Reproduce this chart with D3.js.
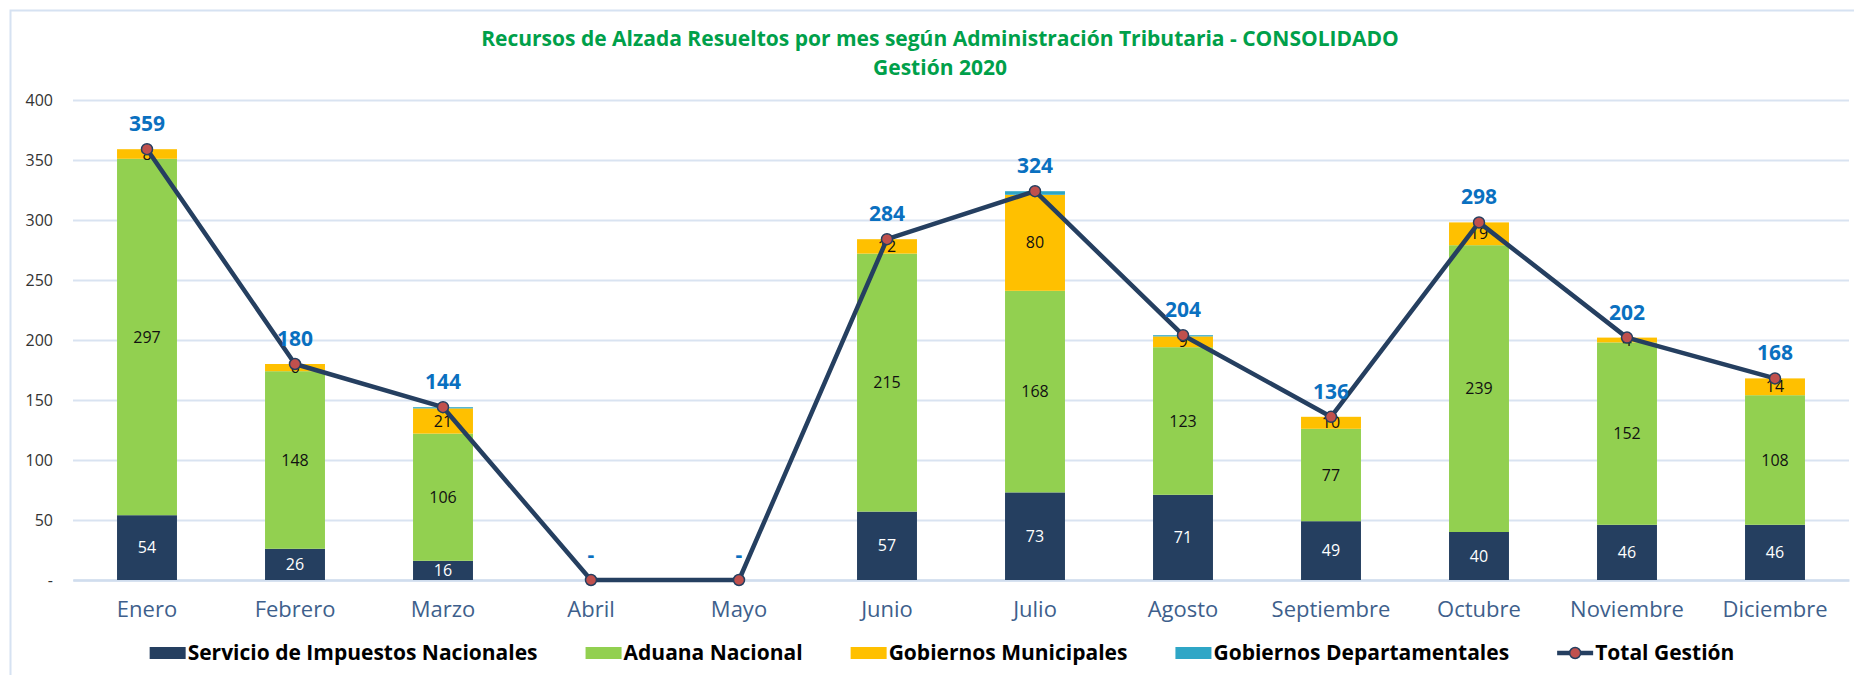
<!DOCTYPE html>
<html>
<head>
<meta charset="utf-8">
<script src="https://cdn.jsdelivr.net/npm/d3@7"></script>
<style>
  body { margin: 0; background: #fff; }
  svg { display: block; }
</style>
</head>
<body>
<div id="chart"></div>
<script>
// data
const months = ["Enero", "Febrero", "Marzo", "Abril", "Mayo", "Junio", "Julio", "Agosto", "Septiembre", "Octubre", "Noviembre", "Diciembre"];
const impuestos = [54, 26, 16, 0, 0, 57, 73, 71, 49, 40, 46, 46];
const aduana = [297, 148, 106, 0, 0, 215, 168, 123, 77, 239, 152, 108];
const municipales = [8, 6, 21, 0, 0, 12, 80, 9, 10, 19, 4, 14];
const departamentales = [0, 0, 1, 0, 0, 0, 3, 1, 0, 0, 0, 0];
const totalGestion = [359, 180, 144, 0, 0, 284, 324, 204, 136, 298, 202, 168];
const yTicks = [0, 50, 100, 150, 200, 250, 300, 350, 400];

const seriesNames = ["Servicio de Impuestos Nacionales", "Aduana Nacional", "Gobiernos Municipales", "Gobiernos Departamentales"];
const seriesKeys = ["imp", "adu", "mun", "dep"];
const colors = ["#253F60", "#92D050", "#FFC000", "#2FA6C6"];
const labelColors = ["#ffffff", "#111111", "#111111", null];

const W = 1854, H = 675;
const font = "'Open Sans', sans-serif";

const table = months.map((m, i) => ({
  month: m, imp: impuestos[i], adu: aduana[i], mun: municipales[i], dep: departamentales[i], total: totalGestion[i]
}));

const svg = d3.select("#chart").append("svg")
  .attr("width", W)
  .attr("height", H);

// outer frame
svg.append("rect")
  .attr("x", 10.5).attr("y", 10.5)
  .attr("width", W + 20).attr("height", H + 20)
  .attr("fill", "none")
  .attr("stroke", "#D6E2F2")
  .attr("stroke-width", 2);

// title
const title = svg.append("text")
  .attr("text-anchor", "middle")
  .attr("font-family", font)
  .attr("font-weight", "bold")
  .attr("font-size", "21px")
  .attr("fill", "#00A04A");
title.append("tspan").attr("x", 940).attr("y", 46)
  .text("Recursos de Alzada Resueltos por mes según Administración Tributaria - CONSOLIDADO");
title.append("tspan").attr("x", 940).attr("y", 75)
  .text("Gestión 2020");

// scales
const x = d3.scaleBand()
  .domain(months)
  .range([73, 1849])
  .paddingInner(0.595)
  .paddingOuter(0.2975);

const y = d3.scaleLinear()
  .domain([0, 400])
  .range([580, 100]);

// y grid + labels
svg.append("g")
  .attr("transform", "translate(73,0)")
  .call(d3.axisLeft(y).tickValues(yTicks).tickSize(-(1849 - 73)).tickPadding(20)
    .tickFormat(d => d === 0 ? "-" : d))
  .call(g => g.select(".domain").remove())
  .call(g => g.selectAll("line").attr("stroke", "#D9E3F1").attr("stroke-width", 2))
  .call(g => g.selectAll("text")
    .attr("font-family", font)
    .attr("font-size", "16px")
    .attr("fill", "#333333"));

// x axis labels
svg.append("g")
  .attr("transform", "translate(0,580)")
  .call(d3.axisBottom(x).tickSize(0).tickPadding(21))
  .call(g => g.select(".domain").attr("stroke", "#D0DDEE").attr("stroke-width", 2.5))
  .call(g => g.selectAll("text")
    .attr("font-family", font)
    .attr("font-size", "22px")
    .attr("fill", "#3E5F8C"));

// stacked bars
const stacked = d3.stack().keys(seriesKeys)(table);

const layers = svg.append("g").selectAll("g")
  .data(stacked)
  .join("g")
    .attr("fill", (d, i) => colors[i]);

layers.selectAll("rect")
  .data(d => d)
  .join("rect")
    .attr("x", d => x(d.data.month))
    .attr("y", d => y(d[1]))
    .attr("width", x.bandwidth())
    .attr("height", d => y(d[0]) - y(d[1]));

// segment labels
stacked.forEach((layer, i) => {
  if (!labelColors[i]) return;
  svg.append("g").selectAll("text")
    .data(layer.filter(d => d[1] - d[0] > 0))
    .join("text")
      .attr("x", d => x(d.data.month) + x.bandwidth() / 2)
      .attr("y", d => y((d[0] + d[1]) / 2))
      .attr("dy", "0.35em")
      .attr("text-anchor", "middle")
      .attr("font-family", font)
      .attr("font-size", "16px")
      .attr("fill", labelColors[i])
      .text(d => d[1] - d[0]);
});

// total line
const line = d3.line()
  .x(d => x(d.month) + x.bandwidth() / 2)
  .y(d => y(d.total));

svg.append("path")
  .datum(table)
  .attr("d", line)
  .attr("fill", "none")
  .attr("stroke", "#253F60")
  .attr("stroke-width", 4.5)
  .attr("stroke-linejoin", "round");

svg.append("g").selectAll("circle")
  .data(table)
  .join("circle")
    .attr("cx", d => x(d.month) + x.bandwidth() / 2)
    .attr("cy", d => y(d.total))
    .attr("r", 5.5)
    .attr("fill", "#C0504D")
    .attr("stroke", "#253F60")
    .attr("stroke-width", 1.5);

// total labels
svg.append("g").selectAll("text")
  .data(table)
  .join("text")
    .attr("x", d => x(d.month) + x.bandwidth() / 2)
    .attr("y", d => y(d.total) - 18)
    .attr("text-anchor", "middle")
    .attr("font-family", font)
    .attr("font-weight", "bold")
    .attr("font-size", "21px")
    .attr("fill", "#0A70C0")
    .text(d => d.total === 0 ? "-" : d.total);

// legend
const legend = svg.append("g").attr("transform", "translate(0,653)");
const legendItems = seriesNames.concat(["Total Gestión"]);
const gap = 48;
let lx = 0;
legendItems.forEach((name, i) => {
  const g = legend.append("g").attr("transform", `translate(${lx},0)`);
  if (i < 4) {
    g.append("rect")
      .attr("x", 0).attr("y", -6)
      .attr("width", 36).attr("height", 12)
      .attr("fill", colors[i]);
  } else {
    g.append("line")
      .attr("x1", 0).attr("x2", 36).attr("y1", 0).attr("y2", 0)
      .attr("stroke", "#253F60").attr("stroke-width", 4.5);
    g.append("circle")
      .attr("cx", 18).attr("cy", 0).attr("r", 5.5)
      .attr("fill", "#C0504D").attr("stroke", "#253F60").attr("stroke-width", 1.5);
  }
  const t = g.append("text")
    .attr("x", 38).attr("dy", "0.35em")
    .attr("font-family", font)
    .attr("font-weight", "bold")
    .attr("font-size", "21px")
    .attr("fill", "#000")
    .text(name);
  lx += 38 + t.node().getComputedTextLength() + gap;
});
const legendWidth = lx - gap;
legend.attr("transform", `translate(${942 - legendWidth / 2},653)`);
</script>
</body>
</html>
